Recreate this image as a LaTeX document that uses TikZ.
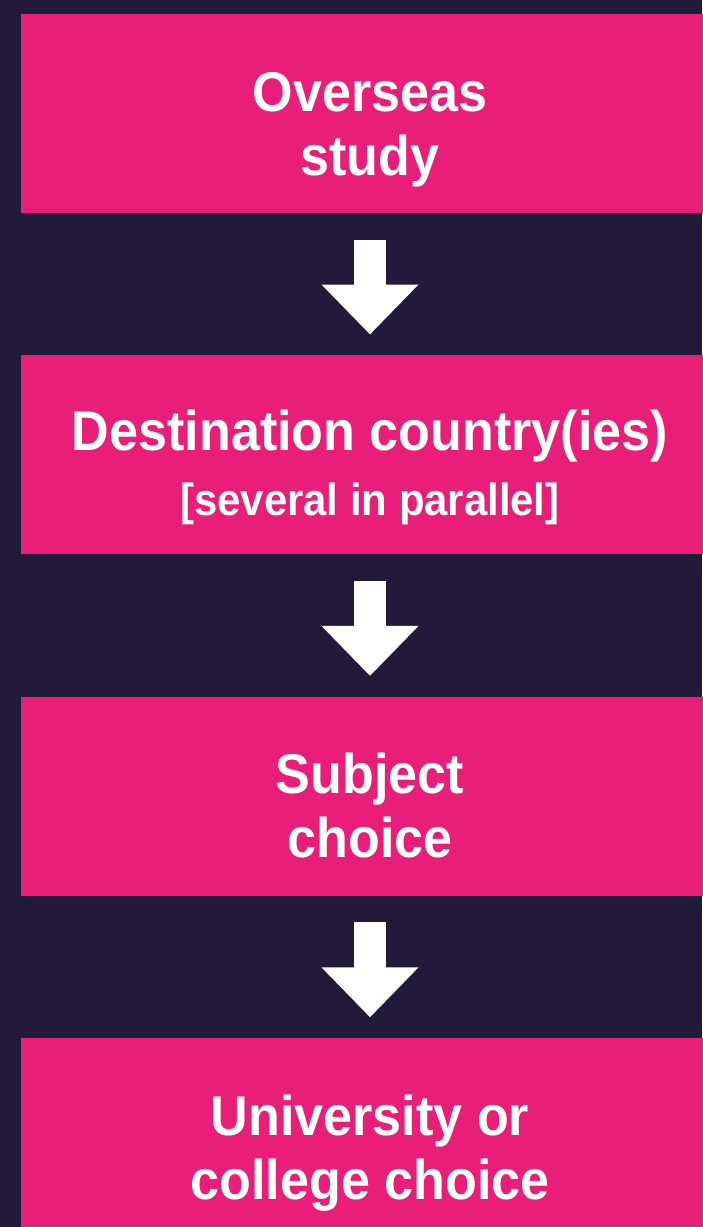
\documentclass[tikz,border=0pt]{standalone}
\usepackage{fontspec}
\setmainfont{Liberation Sans}[FakeStretch=0.93]
\usepackage{tikz}
\usetikzlibrary{positioning, arrows.meta}
\definecolor{navy}{HTML}{211A3B}
\definecolor{pinkbox}{HTML}{E81E78}

\begin{document}
\begin{tikzpicture}[x=1pt, y=-1pt, node distance=142pt]
    \tikzset{stage/.style={rectangle, fill=pinkbox, minimum width=698pt, minimum height=199pt, inner sep=0pt},
    caption/.style={anchor=base, align=center, text=white, font=\bfseries\fontsize{56}{64}\selectfont},
    flow/.style={white, line width=32pt, -{Triangle[width=94pt, length=50pt]}}}

    % Background
    \fill[navy] (0,0) rectangle (702,1227);
    \useasboundingbox (0,0) rectangle (702,1227);

    % Boxes
    \node[stage]                  (study)   at (370,113.5) {};
    \node[stage, below=of study]   (country) {};
    \node[stage, below=of country] (subject) {};
    \node[stage, below=of subject] (college) {};

    % Texts in the boxes (base = last line)
    \node[caption] (studytxt)   at ([yshift=-61.5pt]study.center)   {Overseas\\study};
    \node[caption] (countrytxt) at ([yshift=-60.5pt]country.center) {Destination country(ies)\\[1pt]{\fontsize{45}{50}\selectfont [several in parallel]}};
    \node[caption] (subjecttxt) at ([yshift=-61.5pt]subject.center) {Subject\\choice};
    \node[caption] (collegetxt) at ([yshift=-61.5pt]college.center) {University or\\college choice};

    % Arrows between the boxes
    \draw[flow] ([yshift=-26.3pt]study.south)   -- ([yshift=20.7pt]country.north);
    \draw[flow] ([yshift=-26.3pt]country.south) -- ([yshift=20.7pt]subject.north);
    \draw[flow] ([yshift=-26.3pt]subject.south) -- ([yshift=20.7pt]college.north);
\end{tikzpicture}
\end{document}
